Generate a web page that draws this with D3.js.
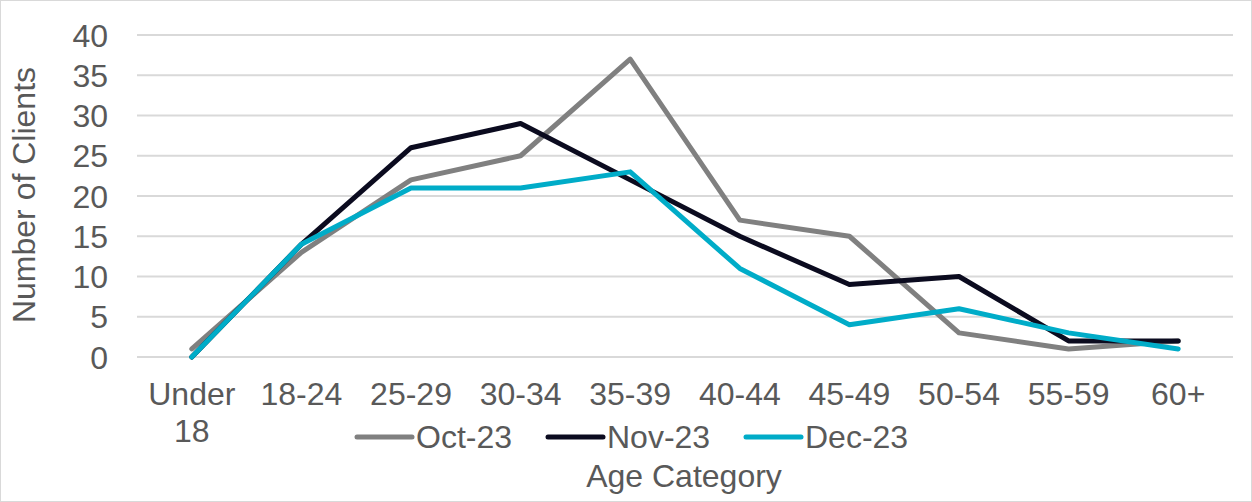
<!DOCTYPE html>
<html><head><meta charset="utf-8">
<script src="https://cdn.jsdelivr.net/npm/d3@7"></script>
<style>
html,body{margin:0;padding:0;background:#fff;}
svg text{font-family:"Liberation Sans",Arial,sans-serif;fill:#595959;}
</style></head>
<body>
<svg id="chart" width="1252" height="502"></svg>
<script>
const categories = ["Under 18","18-24","25-29","30-34","35-39","40-44","45-49","50-54","55-59","60+"];
const oct23 = [1,13,22,25,37,17,15,3,1,2];
const nov23 = [0,14,26,29,22,15,9,10,2,2];
const dec23 = [0,14,21,21,23,11,4,6,3,1];
const seriesNames = ["Oct-23","Nov-23","Dec-23"];
const seriesColors = ["#808080","#0b0b1f","#00acc8"];
const yTicks = [0,5,10,15,20,25,30,35,40];

const series = [oct23, nov23, dec23];
const svg = d3.select("#chart");
const W = 1252, H = 502;
const m = {left:137, right:1233, top:35, bottom:357};
const fs = 32;

svg.append("rect").attr("x",0.5).attr("y",0.5).attr("width",W-1).attr("height",H-1)
  .attr("fill","#fff").attr("stroke","#d9d9d9");

const x = d3.scaleBand().domain(categories).range([m.left,m.right]);
const y = d3.scaleLinear().domain([0,40]).range([m.bottom,m.top]);

// gridlines
svg.append("g").selectAll("line").data(yTicks).join("line")
  .attr("x1",m.left).attr("x2",m.right)
  .attr("y1",d=>y(d)).attr("y2",d=>y(d))
  .attr("stroke","#d9d9d9").attr("stroke-width",2);

// y axis labels
const yAxis = d3.axisLeft(y).tickValues(yTicks).tickSize(0).tickPadding(0);
const yg = svg.append("g").attr("transform",`translate(108,0)`).call(yAxis);
yg.select(".domain").remove();
yg.selectAll("text").attr("font-size",fs).attr("font-family","Liberation Sans, Arial, sans-serif")
  .attr("fill","#595959").attr("dy","0.35em");

// x axis labels
const xAxis = d3.axisBottom(x).tickSize(0).tickPadding(0);
const xg = svg.append("g").attr("transform",`translate(0,${m.bottom})`).call(xAxis);
xg.select(".domain").remove();
xg.selectAll("text").attr("font-size",fs).attr("font-family","Liberation Sans, Arial, sans-serif")
  .attr("fill","#595959").attr("dy",null).attr("y",48)
  .each(function(d){
    const t = d3.select(this);
    if (d === "Under 18") {
      t.text(null);
      t.append("tspan").attr("x",0).text("Under");
      t.append("tspan").attr("x",0).attr("dy",37).text("18");
    }
  });

// lines
const line = d3.line().x((d,i)=>x(categories[i])+x.bandwidth()/2).y(d=>y(d));
series.forEach((s,i)=>{
  svg.append("path").datum(s).attr("d",line)
    .attr("fill","none").attr("stroke",seriesColors[i]).attr("stroke-width",5)
    .attr("stroke-linejoin","round").attr("stroke-linecap","round");
});

// axis titles
svg.append("text").attr("transform","translate(35,195) rotate(-90)")
  .attr("text-anchor","middle").attr("font-size",fs).text("Number of Clients");
svg.append("text").attr("x",684).attr("y",487).attr("text-anchor","middle")
  .attr("font-size",fs).text("Age Category");

// legend
const legX = [357,548,746];
const lg = svg.append("g");
seriesNames.forEach((n,i)=>{
  lg.append("line").attr("x1",legX[i]).attr("x2",legX[i]+55).attr("y1",437).attr("y2",437)
    .attr("stroke",seriesColors[i]).attr("stroke-width",5).attr("stroke-linecap","round");
  lg.append("text").attr("x",legX[i]+59).attr("y",437).attr("dy","0.35em")
    .attr("font-size",fs).text(n);
});
</script>
</body></html>
